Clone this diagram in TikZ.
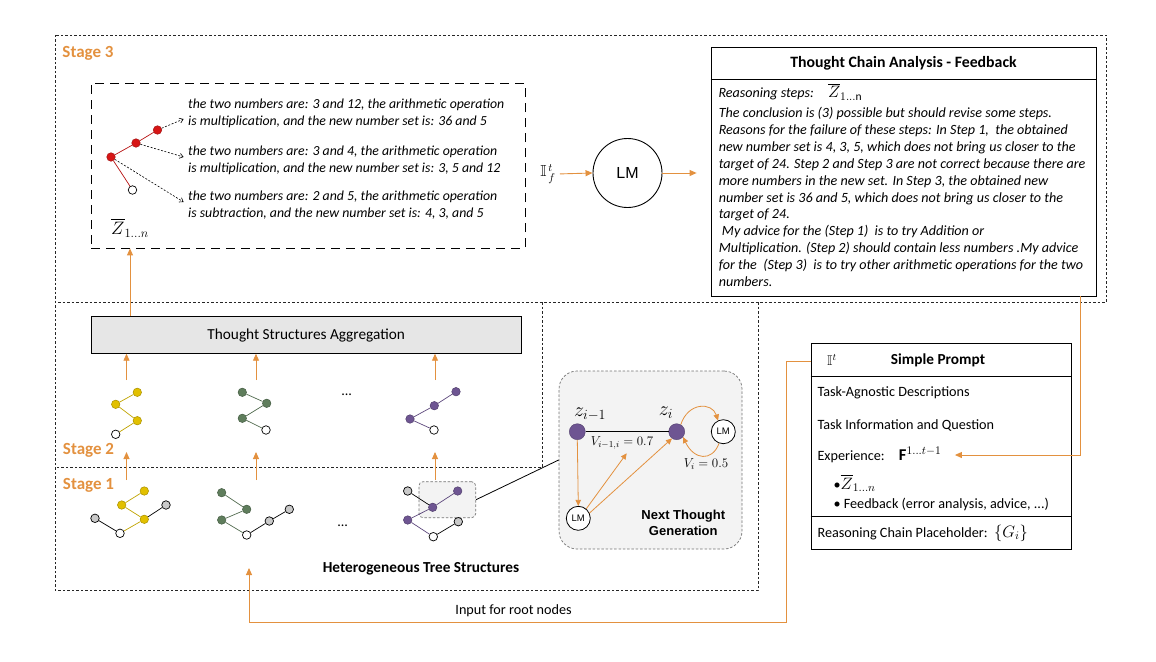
\RequirePackage{fix-cm}
\documentclass[tikz,border=0pt]{standalone}
\usepackage{amsmath,amssymb}
\usepackage{fontspec}
\setmainfont{Carlito}
\newfontfamily\arl{Liberation Sans}
\usetikzlibrary{arrows.meta}
\definecolor{org}{HTML}{E3913F}
\definecolor{yel}{HTML}{E2C000}
\definecolor{grn}{HTML}{5F7D5C}
\definecolor{pur}{HTML}{6E5592}
\definecolor{gry}{HTML}{C9C9C9}
\definecolor{redn}{HTML}{D71515}
\definecolor{aggf}{HTML}{E6E6E6}
\definecolor{ntgf}{HTML}{F3F3F3}
\newcommand\fsA{\fontsize{14.2}{17}\selectfont}
\newcommand\fsR{\fontsize{13.8}{17}\selectfont}
\newcommand\fsB{\fontsize{14.1}{16.9}\selectfont}
\newcommand\fsC{\fontsize{15.3}{17}\selectfont}
\newcommand\fsT{\fontsize{15.8}{18}\selectfont}
\newcommand\fsM{\fontsize{16.5}{17}\selectfont}
\begin{document}
\begin{tikzpicture}[x=1pt,y=-1pt,
  stg/.style={draw=black!85, line width=0.7pt, dash pattern=on 2.5pt off 2pt},
  olab/.style={text=org, font=\fontsize{17}{17}\selectfont\bfseries},
  oarr/.style={draw=org, line width=0.9pt, -{Triangle[length=7pt,width=6pt]}},
  oarrs/.style={draw=org, line width=0.8pt, -{Triangle[length=6pt,width=5.5pt]}},
  tn/.style={circle, draw=#1!75!black, fill=#1, line width=0.5pt, inner sep=0pt, minimum size=8.5pt},
  wn/.style={circle, draw=black, fill=white, line width=0.7pt, inner sep=0pt, minimum size=8.5pt},
  gn/.style={circle, draw=black, fill=gry, line width=0.7pt, inner sep=0pt, minimum size=8.5pt},
  te/.style={draw=#1!85!black, line width=0.7pt},
  be/.style={draw=black, line width=0.7pt},
  dotarr/.style={draw=black, line width=0.6pt, dash pattern=on 2pt off 1.6pt, -{Straight Barb[length=3.5pt,width=5pt]}},
  bx/.style={draw=black, line width=0.8pt},
]
\useasboundingbox (0,0) rectangle (1156,661);

% stage outlines
\draw[stg] (55,35) rectangle (1106,302);
\draw[stg] (542,302) -- (542,467) -- (55,467);
\draw[stg] (758,302) -- (758,590) -- (55,590) -- (55,302);
\node[olab] (s3) at (88,53) {Stage 3};
\node[olab] (s2) at (88.5,450.7) {Stage 2};
\node[olab] (s1) at (88.5,485) {Stage 1};

% ---------- Stage 3 ----------
\node[draw=black, line width=0.8pt, dash pattern=on 9pt off 6pt, minimum width=434pt, minimum height=165pt, inner sep=0pt] (dbox) at (308,165.5) {};
\node[tn=redn] (r0) at (111,157) {};
\node[tn=redn] (r1) at (136,143) {};
\node[tn=redn] (r2) at (157.5,130) {};
\node[wn] (rw) at (132.5,190) {};
\draw[te=redn] (r0) -- (r1);
\draw[te=redn] (r1) -- (r2);
\draw[te=redn] (r0) -- (rw);
\coordinate (a1) at (183.6,119);
\coordinate (a2) at (183.6,157);
\coordinate (a3) at (183.6,202);
\draw[dotarr] (r2) -- (a1);
\draw[dotarr] (r1) -- (a2);
\draw[dotarr] (r0) -- (a3);
\node[anchor=west, align=left, inner sep=0pt, font=\itshape\fsR] (t1) at (188,113.5) {the two numbers are: 3 and 12, the arithmetic operation\\is multiplication, and the new number set is: 36 and 5};
\node[anchor=west, align=left, inner sep=0pt, font=\itshape\fsR] (t2) at (188,160) {the two numbers are: 3 and 4, the arithmetic operation\\is multiplication, and the new number set is: 3, 5 and 12};
\node[anchor=west, align=left, inner sep=0pt, font=\itshape\fsR] (t3) at (188,205) {the two numbers are: 2 and 5, the arithmetic operation\\is subtraction, and the new number set is: 4, 3, and 5};
\node[font=\fontsize{18}{18}\selectfont] (zb) at (130,228) {$\overline{Z}_{1\ldots n}$};

\node[font=\fontsize{16}{16}\selectfont, inner sep=1pt] (ift) at (548,174) {$\mathbb{I}^{\,t}_{\,f}$};
\node[circle, draw=black, line width=0.9pt, minimum size=69pt, inner sep=0pt, font=\arl\fontsize{16}{16}\selectfont] (lm) at (627.5,173) {LM};
\draw[oarr, shorten <=3pt] (ift.east) -- (lm.west);

% feedback box
\node[bx, minimum width=385pt, minimum height=249pt, inner sep=0pt] (fb) at (903.5,171.5) {};
\draw[bx] (fb.north west |- 0,79) -- (fb.north east |- 0,79);
\node[font=\bfseries\fsT] (fbt) at (903.5,63) {Thought Chain Analysis - Feedback};
\node[anchor=west, font=\itshape\fsB] (rs) at (715,91.7) {Reasoning steps:\quad {\fsM$\overline{Z}_{1\ldots\mathrm{n}}$}};
\node[anchor=north west, align=left, inner sep=0pt, font=\itshape\fsB] (fbb) at (718.6,107) {The conclusion is (3) possible but should revise some steps.\\
Reasons for the failure of these steps: In Step 1,\ \ the obtained\\
new number set is 4, 3, 5, which does not bring us closer to the\\
target of 24. Step 2 and Step 3 are not correct because there are\\
more numbers in the new set. In Step 3, the obtained new\\
number set is 36 and 5, which does not bring us closer to the\\
target of 24.\\
\ My advice for the (Step 1)\ \ is to try Addition or\\
Multiplication. (Step 2) should contain less numbers .My advice\\
for the\ \ (Step 3)\ \ is to try other arithmetic operations for the two\\
numbers.};
\draw[oarr, shorten >=14pt] (lm.east) -- (lm.east -| fb.west);

% ---------- Stage 2 ----------
\node[bx, fill=aggf, minimum width=430pt, minimum height=36.6pt, inner sep=0pt, font=\fsC] (agg) at (306.2,335) {Thought Structures Aggregation};
\draw[oarr] (agg.north -| zb) -- (dbox.south -| zb);

\node[tn=yel] (ya1) at (137.3,392.3) {};
\node[tn=yel] (ya2) at (115.7,404.3) {};
\node[tn=yel] (ya3) at (137.3,420.7) {};
\node[wn] (yaw) at (115.7,434.3) {};
\draw[te=yel] (ya1) -- (ya2);
\draw[te=yel] (ya2) -- (ya3);
\draw[te=yel] (ya3) -- (yaw);

\node[tn=grn] (ga1) at (242.3,392.3) {};
\node[tn=grn] (ga2) at (266.7,403.3) {};
\node[tn=grn] (ga3) at (242.3,418.3) {};
\node[wn] (gaw) at (266,430) {};
\draw[te=grn] (ga1) -- (ga2);
\draw[te=grn] (ga2) -- (ga3);
\draw[te=grn] (ga3) -- (gaw);

\node[font=\fsA] (dots2) at (346.7,395) {...};

\node[tn=pur] (pa1) at (456,391.7) {};
\node[tn=pur] (pa2) at (434.3,405.7) {};
\node[tn=pur] (pa3) at (410,419) {};
\node[wn] (paw) at (434,430) {};
\draw[te=pur] (pa1) -- (pa2);
\draw[te=pur] (pa2) -- (pa3);
\draw[te=pur] (pa3) -- (paw);

\coordinate (u1) at (126.5,380);
\coordinate (u2) at (256,380);
\coordinate (u3) at (435,380);
\draw[oarr] (u1) -- (u1 |- agg.south);
\draw[oarr] (u2) -- (u2 |- agg.south);
\draw[oarr] (u3) -- (u3 |- agg.south);

% ---------- Stage 1 ----------
\coordinate (d1) at (126.5,480);
\coordinate (d2) at (256,480);
\coordinate (d3) at (435,480);
\coordinate (d1t) at (126.5,452);
\coordinate (d2t) at (256,452);
\coordinate (d3t) at (435,452);
\draw[oarr] (d1) -- (d1t);
\draw[oarr] (d2) -- (d2t);
\draw[oarr] (d3) -- (d3t);

\node[tn=yel] (yb1) at (144.3,491) {};
\node[tn=yel] (yb2) at (121.7,505) {};
\node[tn=yel] (yb3) at (144.3,519.3) {};
\node[gn] (ybg1) at (95,518.3) {};
\node[wn] (ybw) at (120,533.3) {};
\node[gn] (ybg2) at (166,505) {};
\draw[te=yel] (yb1) -- (yb2);
\draw[te=yel] (yb2) -- (yb3);
\draw[te=yel] (yb3) -- (ybw);
\draw[be] (ybg1) -- (ybw);
\draw[be] (yb3) -- (ybg2);

\node[tn=grn] (gb1) at (221.7,492.7) {};
\node[tn=grn] (gb2) at (246.7,509.3) {};
\node[tn=grn] (gb3) at (221.7,520) {};
\node[wn] (gbw) at (246.7,535) {};
\node[gn] (gbg1) at (269.3,521) {};
\node[gn] (gbg2) at (289.3,509.3) {};
\draw[te=grn] (gb1) -- (gb2);
\draw[te=grn] (gb2) -- (gb3);
\draw[te=grn] (gb3) -- (gbw);
\draw[be] (gbw) -- (gbg1);
\draw[be] (gbg1) -- (gbg2);

\node[font=\fsA] (dots1) at (342.7,525.5) {...};

\node[draw=black!55, line width=0.7pt, dash pattern=on 2.5pt off 1.8pt, fill=ntgf, rounded corners=4pt, minimum width=56.7pt, minimum height=36pt, inner sep=0pt] (hl) at (447.3,499.7) {};
\node[gn] (pbg) at (407.7,491) {};
\node[tn=pur] (pb1) at (457.7,491) {};
\node[tn=pur] (pb2) at (432.7,507.3) {};
\node[tn=pur] (pb3) at (407.7,520) {};
\node[wn] (pbw) at (433.3,536.7) {};
\node[gn] (pbg2) at (458.3,521.7) {};
\draw[be] (pbg) -- (pb2);
\draw[te=pur] (pb1) -- (pb2);
\draw[te=pur] (pb2) -- (pb3);
\draw[te=pur] (pb3) -- (pbw);
\draw[be] (pbw) -- (pbg2);

\node[font=\bfseries\fsC] (hts) at (421,569) {Heterogeneous Tree Structures};

% next thought generation
\node[draw=black!55, line width=0.7pt, dash pattern=on 2.5pt off 1.8pt, fill=ntgf, rounded corners=18pt, minimum width=183pt, minimum height=178pt, inner sep=0pt] (ntg) at (650.5,460) {};
\draw[line width=0.8pt] (hl.east) -- (ntg.west);
\node[circle, fill=pur, draw=pur!75!black, minimum size=16pt, inner sep=0pt] (zp) at (577.3,431.7) {};
\node[circle, fill=pur, draw=pur!75!black, minimum size=16pt, inner sep=0pt] (zi) at (676.7,431.7) {};
\draw[line width=0.8pt] (zp) -- (zi);
\node[font=\fontsize{20}{20}\selectfont] (zpl) at (590,414) {$z_{i-1}$};
\node[font=\fontsize{20}{20}\selectfont] (zil) at (666,413) {$z_i$};
\node[font=\fontsize{13}{13}\selectfont] (v1) at (622,443) {$V_{i-1,i}=0.7$};
\node[font=\fontsize{13}{13}\selectfont] (v2) at (706,464.3) {$V_i=0.5$};
\node[circle, draw=black, fill=white, line width=0.8pt, minimum size=24pt, inner sep=0pt, font=\arl\fontsize{9.5}{9.5}\selectfont] (lmb) at (578.3,518.3) {LM};
\node[circle, draw=black, fill=white, line width=0.8pt, minimum size=24pt, inner sep=0pt, font=\arl\fontsize{9.5}{9.5}\selectfont] (lmr) at (723.3,431.7) {LM};
\coordinate (vmid) at (626.7,453.3);
\draw[oarrs] (zp.south) -- (lmb.north);
\draw[oarrs] (lmb.50) -- (vmid);
\draw[oarrs] (lmb.25) -- (zi.235);
\draw[oarrs] (zi.60) .. controls (688,402) and (712,402) .. (lmr.115);
\draw[oarrs] (lmr.250) .. controls (712,462) and (694,460) .. (zi.-40);
\node[font=\arl\bfseries\fontsize{13}{16}\selectfont, align=center] (ntgl) at (683.3,523.3) {Next Thought\\Generation};

% ---------- Simple prompt ----------
\node[bx, minimum width=260pt, minimum height=206pt, inner sep=0pt] (sp) at (941,446) {};
\draw[bx] (sp.west |- 0,376) -- (sp.east |- 0,376);
\draw[bx] (sp.west |- 0,516) -- (sp.east |- 0,516);
\node[font=\fontsize{14}{14}\selectfont] (it) at (832,360) {$\mathbb{I}^t$};
\node[font=\bfseries\fsC] (spt) at (938,360) {Simple Prompt};
\node[anchor=west, font=\fsA] (l1) at (814,392.3) {Task-Agnostic Descriptions};
\node[anchor=west, font=\fsA] (l2) at (814,425.3) {Task Information and Question};
\node[anchor=west, font=\fsA] (l3) at (814,455) {Experience:\quad {\fsM$\mathbf{F}^{1\ldots t-1}$}};
\node[anchor=west, font=\fsA] (l4) at (830,483) {\textbullet{\fsM$\overline{Z}_{1\ldots n}$}};
\node[anchor=west, font=\fsA] (l5) at (830,504) {\textbullet\ Feedback (error analysis, advice, ...)};
\node[anchor=west, font=\fsA] (l6) at (814,533) {Reasoning Chain Placeholder:\ \ {\fsM$\{G_i\}$}};

\coordinate (fx) at (1080,296);
\draw[oarr, shorten >=10pt] (fx) |- (l3.east);
\coordinate (spl) at (811,361);
\coordinate (bend) at (786,622);
\coordinate (rootin) at (249,568);
\draw[oarr] (spl) -| (bend) -| (rootin);
\node[font=\fsA] (irn) at (513.6,611) {Input for root nodes};
\end{tikzpicture}
\end{document}
